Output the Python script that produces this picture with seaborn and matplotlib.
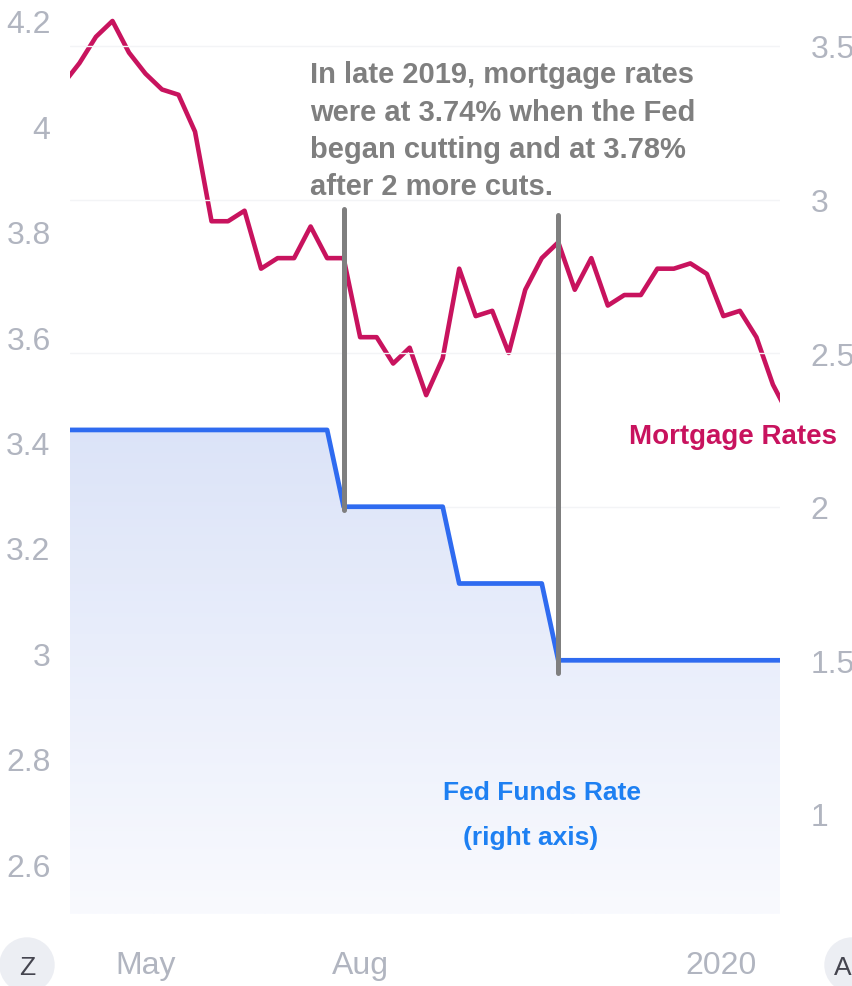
"""
Mortgage rates vs Fed Funds rate, 2019
"""

# Libraries
import numpy as np
import pandas as pd
import seaborn as sns
import matplotlib.pyplot as plt
from matplotlib.patches import Ellipse
from matplotlib.colors import LinearSegmentedColormap

# Seaborn
sns.set_theme(style="white")
plt.rcParams['font.family'] = ['Liberation Sans', 'DejaVu Sans']

# ---------------------------------
# Data
# ---------------------------------
# Weekly survey dates (Thursdays)
dates = pd.date_range("2019-04-04", "2020-02-06", freq="7D")

# 30-year mortgage rate (%), left axis
mortgage = [4.08, 4.12, 4.17, 4.20, 4.14, 4.10, 4.07, 4.06, 3.99,
            3.82, 3.82, 3.84, 3.73, 3.75, 3.75, 3.81, 3.75, 3.75,
            3.60, 3.60, 3.55, 3.58, 3.49, 3.56, 3.73, 3.64, 3.65,
            3.57, 3.69, 3.75, 3.78, 3.69, 3.75, 3.66, 3.68, 3.68,
            3.73, 3.73, 3.74, 3.72, 3.64, 3.65, 3.60, 3.51, 3.45]

# Fed funds rate (%), right axis
fed_funds = [2.25, 2.25, 2.25, 2.25, 2.25, 2.25, 2.25, 2.25, 2.25,
             2.25, 2.25, 2.25, 2.25, 2.25, 2.25, 2.25, 2.25, 2.00,
             2.00, 2.00, 2.00, 2.00, 2.00, 2.00, 1.75, 1.75, 1.75,
             1.75, 1.75, 1.75, 1.50, 1.50, 1.50, 1.50, 1.50, 1.50,
             1.50, 1.50, 1.50, 1.50, 1.50, 1.50, 1.50, 1.50, 1.50]

# Fed cut markers: date, bottom and top (right axis units)
cut_dates = pd.to_datetime(["2019-08-01", "2019-10-31"])
cut_bottoms = [1.99, 1.46]
cut_tops = [2.97, 2.95]

# Axis ticks
left_ticks = [2.6, 2.8, 3.0, 3.2, 3.4, 3.6, 3.8, 4.0, 4.2]
left_labels = ["2.6", "2.8", "3", "3.2", "3.4", "3.6", "3.8", "4", "4.2"]
right_ticks = [1.0, 1.5, 2.0, 2.5, 3.0, 3.5]
right_labels = ["1", "1.5", "2", "2.5", "3", "3.5"]
x_ticks = pd.to_datetime(["2019-05-09", "2019-08-08", "2020-01-08"])
x_labels = ["May", "Aug", "2020"]

note = ("In late 2019, mortgage rates\n"
        "were at 3.74% when the Fed\n"
        "began cutting and at 3.78%\n"
        "after 2 more cuts.")

df = pd.DataFrame({"date": dates, "mortgage": mortgage, "fed": fed_funds})

# Colours
c_mort = "#c8135e"
c_fed = "#2f6bf0"
c_fed_txt = "#1e80f2"
c_tick = "#b1b5c0"
c_note = "#7f7f7f"

# ------------------------------------------------
# Plot
# ------------------------------------------------
fig = plt.figure(figsize=(8.53, 9.87), dpi=100)
ax = fig.add_axes([70 / 853, 72 / 987, 710 / 853, 915 / 987])

# Mortgage rates (left axis)
sns.lineplot(data=df, x="date", y="mortgage", ax=ax,
             color=c_mort, linewidth=3.3, zorder=3)

# Fed funds (right axis)
ax2 = ax.twinx()
ax2.grid(axis="y", color="#f3f4f6", linewidth=1)
ax2.set_axisbelow(True)
sns.lineplot(data=df, x="date", y="fed", ax=ax2,
             color=c_fed, linewidth=3.4, zorder=4)

# Gradient fill under the fed funds line
poly = ax2.fill_between(df.date, df.fed, 0, color="none", linewidth=0)
cmap = LinearSegmentedColormap.from_list("fill", ["#f9fafe", "#dbe3f8"])
grad = np.linspace(0, 1, 256).reshape(-1, 1)
img = ax2.imshow(grad, extent=[0, 1, 0, 0.54], transform=ax2.transAxes,
                 origin="lower", cmap=cmap, aspect="auto", zorder=1)
img.set_clip_path(poly.get_paths()[0], ax2.transData)

# Cut markers
for d, lo, hi in zip(cut_dates, cut_bottoms, cut_tops):
    ax2.plot([d, d], [lo, hi], color=c_note, linewidth=3.6,
             solid_capstyle="round", zorder=5)

# Limits
ax.set_xlim(pd.Timestamp("2019-04-07"), pd.Timestamp("2020-02-02"))
ax.set_ylim(2.5055, 4.2417)
ax2.set_ylim(0.674, 3.653)

# Ticks
ax.set_yticks(left_ticks)
ax.set_yticklabels(left_labels)
ax2.set_yticks(right_ticks)
ax2.set_yticklabels(right_labels)
ax.set_xticks(x_ticks)
ax.set_xticklabels(x_labels)
ax.tick_params(axis="y", length=0, pad=14, labelsize=23, labelcolor=c_tick)
ax2.tick_params(axis="y", length=0, pad=22, labelsize=23, labelcolor=c_tick)
ax.tick_params(axis="x", length=0, pad=26, labelsize=23, labelcolor=c_tick)
ax.set(xlabel="", ylabel="")
ax2.set(xlabel="", ylabel="")
ax.grid(False)
sns.despine(ax=ax, left=True, bottom=True)
sns.despine(ax=ax2, left=True, bottom=True, right=True)

# Texts (on the top axes so the fill does not hide them)
ax2.text(0.338, 0.933, note, transform=ax2.transAxes, ha="left", va="top",
         fontsize=21, fontweight="bold", color=c_note, linespacing=1.42,
         zorder=6)
ax2.text(0.934, 0.522, "Mortgage Rates", transform=ax2.transAxes,
         ha="center", va="center", fontsize=20, fontweight="bold",
         color=c_mort, zorder=6)
ax2.text(0.665, 0.133, "Fed Funds Rate", transform=ax2.transAxes,
         ha="center", va="center", fontsize=19, fontweight="bold",
         color=c_fed_txt, zorder=6)
ax2.text(0.649, 0.084, "(right axis)", transform=ax2.transAxes,
         ha="center", va="center", fontsize=19, fontweight="bold",
         color=c_fed_txt, zorder=6)

# Corner buttons
for cx, letter, lx in [(27, "Z", 27), (852, "A", 843)]:
    fig.patches.append(Ellipse((cx / 853, 1 - 966 / 987), 54 / 853, 54 / 987,
                               transform=fig.transFigure,
                               color="#eceef3", zorder=0))
    fig.text(lx / 853, 1 - 968 / 987, letter, ha="center", va="center",
             fontsize=19, color="#45454f")

fig.savefig("out.png", dpi=100)
